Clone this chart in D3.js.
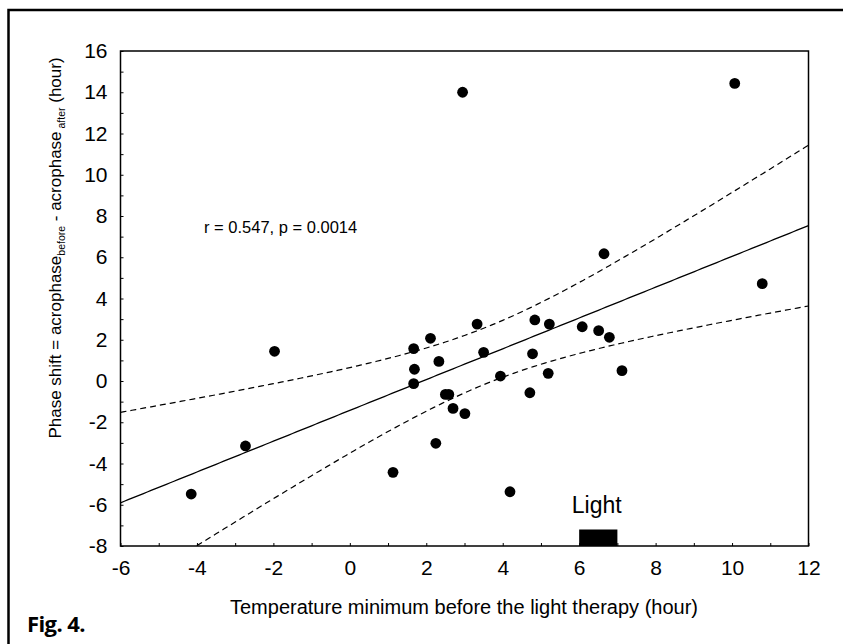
<!DOCTYPE html>
<html>
<head>
<meta charset="utf-8">
<script src="https://cdn.jsdelivr.net/npm/d3@7"></script>
<style>
  html, body { margin: 0; padding: 0; background: #fff; }
  svg { display: block; font-family: "Liberation Sans", Arial, sans-serif; }
</style>
</head>
<body>
<svg id="chart" width="843" height="644"></svg>
<script>
// ---- data ----
const tempMin = [2.95, 10.07, 6.65, 10.79, 3.33, 4.84, 5.22, 6.08, 6.51, 6.79, 2.11,
                 1.67, 3.50, 4.78, 2.33, 1.69, 7.12, 5.19, 3.94, 1.67, 4.71, 2.50,
                 2.59, 2.70, 3.01, 2.25, 4.19, -1.97, -2.73, -4.15, 1.13];
const phaseShift = [14.0, 14.43, 6.17, 4.72, 2.76, 2.96, 2.76, 2.63, 2.44, 2.12, 2.07,
                    1.57, 1.39, 1.32, 0.95, 0.57, 0.50, 0.37, 0.24, -0.13, -0.57, -0.65,
                    -0.65, -1.33, -1.58, -3.02, -5.37, 1.44, -3.15, -5.48, -4.43];
const xTicks = [-6, -4, -2, 0, 2, 4, 6, 8, 10, 12];
const yTicks = [-8, -6, -4, -2, 0, 2, 4, 6, 8, 10, 12, 14, 16];
const xDomain = [-6, 12];
const yDomain = [-8, 16];
const lightPeriod = [6, 7];      // hours of light therapy
const lightTop = -7.2;
const statText = "r = 0.547, p = 0.0014";
const tCrit = 2.045;             // t(0.975, df = 29)

// ---- layout ----
const svg = d3.select("#chart");
const L = 120.5, R = 808.5, T = 51, B = 546;
const x = d3.scaleLinear().domain(xDomain).range([L, R]);
const y = d3.scaleLinear().domain(yDomain).range([B, T]);

// outer frame
svg.append("rect").attr("x", 8.5).attr("y", 10).attr("width", 900).attr("height", 700)
  .attr("fill", "none").attr("stroke", "#000").attr("stroke-width", 2.5);

// clip
svg.append("clipPath").attr("id", "clip").append("rect")
  .attr("x", L).attr("y", T).attr("width", R - L).attr("height", B - T);

// axes
const minorX = d3.range(xDomain[0], xDomain[1] + 1, 1);
const minorY = d3.range(yDomain[0], yDomain[1] + 1, 1);
const xAxis = d3.axisBottom(x).tickValues(minorX).tickSizeInner(-3).tickSizeOuter(0).tickPadding(14)
  .tickFormat(d => xTicks.includes(d) ? d3.format("d")(d).replace("−", "-") : "");
const yAxis = d3.axisLeft(y).tickValues(minorY).tickSizeInner(-3).tickSizeOuter(0).tickPadding(13)
  .tickFormat(d => yTicks.includes(d) ? d3.format("d")(d).replace("−", "-") : "");

const gx = svg.append("g").attr("transform", `translate(0,${B})`).call(xAxis);
const gy = svg.append("g").attr("transform", `translate(${L},0)`).call(yAxis);
[gx, gy].forEach(g => {
  g.select(".domain").remove();
  g.selectAll("text").attr("font-size", 21).attr("font-family", "Liberation Sans, Arial, sans-serif").attr("fill", "#000");
  g.selectAll("line").attr("stroke", "#000").attr("stroke-width", 1);
});

// plot box
svg.append("rect").attr("x", L).attr("y", T).attr("width", R - L).attr("height", B - T)
  .attr("fill", "none").attr("stroke", "#000").attr("stroke-width", 1.5);

// regression and 95% confidence bands computed from the data
const n = tempMin.length;
const mx = d3.mean(tempMin), my = d3.mean(phaseShift);
let sxx = 0, sxy = 0;
for (let i = 0; i < n; i++) { sxx += (tempMin[i] - mx) ** 2; sxy += (tempMin[i] - mx) * (phaseShift[i] - my); }
const slope = sxy / sxx, intercept = my - slope * mx;
let sse = 0;
for (let i = 0; i < n; i++) sse += (phaseShift[i] - (intercept + slope * tempMin[i])) ** 2;
const s = Math.sqrt(sse / (n - 2));
const grid = d3.range(xDomain[0], xDomain[1] + 0.001, 0.1);
const band = grid.map(v => {
  const f = intercept + slope * v;
  const h = tCrit * s * Math.sqrt(1 / n + (v - mx) ** 2 / sxx);
  return { v, f, lo: f - h, hi: f + h };
});
const plot = svg.append("g").attr("clip-path", "url(#clip)");
plot.append("path").datum(band)
  .attr("d", d3.line().x(d => x(d.v)).y(d => y(d.f)))
  .attr("fill", "none").attr("stroke", "#000").attr("stroke-width", 1.3);
["lo", "hi"].forEach(k => {
  plot.append("path").datum(band)
    .attr("d", d3.line().x(d => x(d.v)).y(d => y(d[k])))
    .attr("fill", "none").attr("stroke", "#000").attr("stroke-width", 1.2)
    .attr("stroke-dasharray", "6,4");
});

// points
plot.selectAll("circle").data(tempMin.map((v, i) => [v, phaseShift[i]]))
  .join("circle").attr("cx", d => x(d[0])).attr("cy", d => y(d[1])).attr("r", 5.4).attr("fill", "#000");

// light bar
svg.append("rect").attr("x", x(lightPeriod[0])).attr("y", y(lightTop))
  .attr("width", x(lightPeriod[1]) - x(lightPeriod[0])).attr("height", y(yDomain[0]) - y(lightTop))
  .attr("fill", "#000");
svg.append("text").attr("x", x(d3.mean(lightPeriod)) - 1.5).attr("y", 513)
  .attr("text-anchor", "middle").attr("font-size", 23).text("Light");

// stats
svg.append("text").attr("x", 204).attr("y", 233).attr("font-size", 16.5).text(statText);

// x title
svg.append("text").attr("x", 464).attr("y", 614).attr("text-anchor", "middle")
  .attr("font-size", 20).text("Temperature minimum before the light therapy (hour)");

// y title
const yt = svg.append("text").attr("transform", "translate(61,248) rotate(-90)")
  .attr("text-anchor", "middle").attr("font-size", 17);
yt.append("tspan").text("Phase shift = acrophase");
yt.append("tspan").attr("font-size", 10.5).attr("dy", 4).text("before");
yt.append("tspan").attr("dy", -4).text(" - acrophase");
yt.append("tspan").attr("font-size", 10.5).attr("dy", 4).text(" after");
yt.append("tspan").attr("dy", -4).text(" (hour)");

// figure label
svg.append("text").attr("x", 27).attr("y", 632).attr("font-size", 22).attr("font-weight", "bold")
  .attr("letter-spacing", -0.6)
  .attr("font-family", "'Open Sans', sans-serif").text("Fig. 4.");
</script>
</body>
</html>
